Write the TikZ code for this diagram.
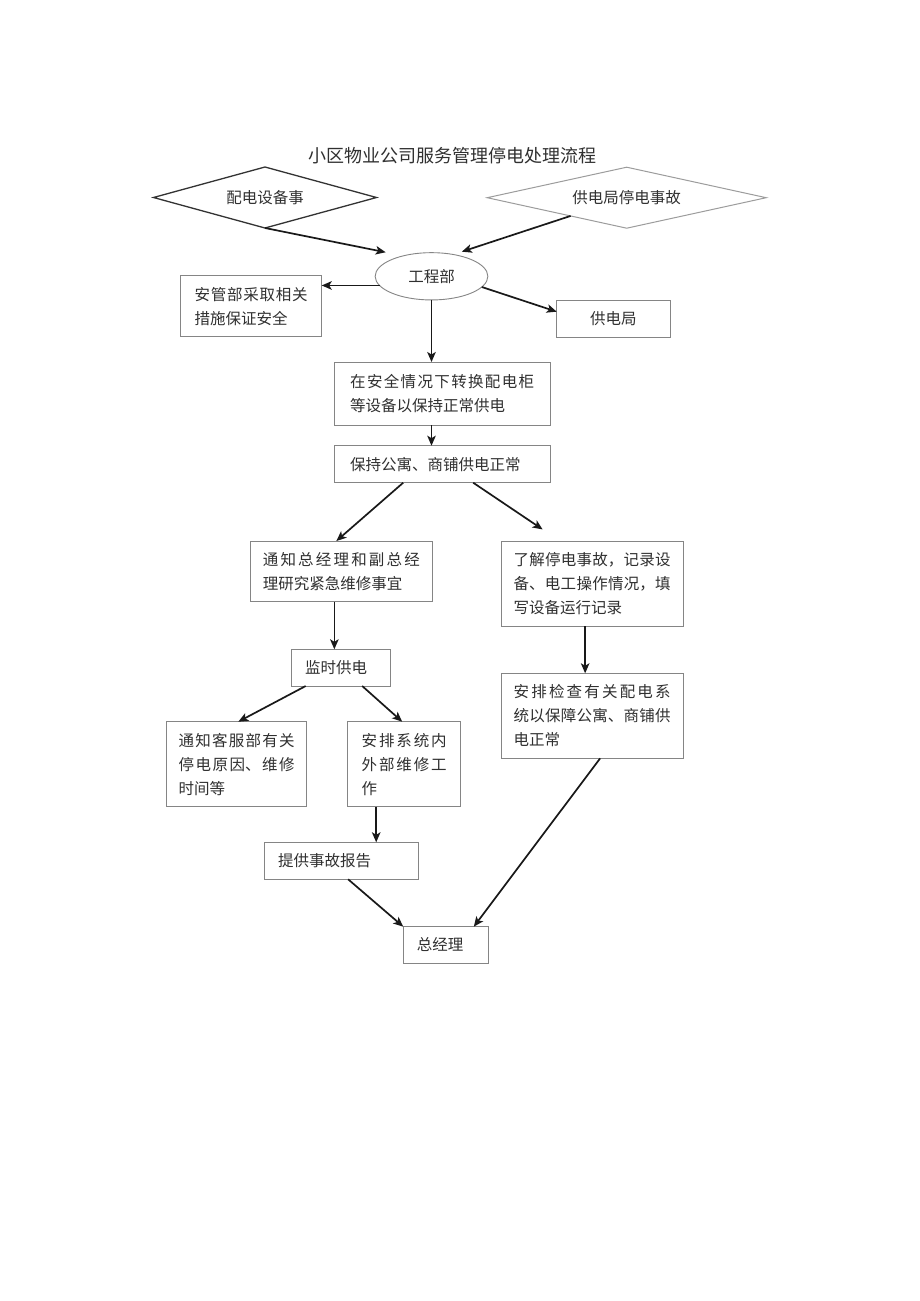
\documentclass[tikz,border=0pt]{standalone}
\usepackage{fontspec}
\setmainfont{Noto Sans CJK SC}
\usetikzlibrary{arrows.meta,shapes.geometric,calc}
\XeTeXlinebreaklocale "zh"
\XeTeXlinebreakskip=0pt plus 4pt
\definecolor{boxgray}{HTML}{858585}
\definecolor{txt}{HTML}{303030}
\definecolor{dline}{HTML}{333333}
\definecolor{lline}{HTML}{9C9C9C}
\newcommand\bodyfont{\fontsize{15.5}{24}\selectfont}
\newcommand\titlefont{\fontsize{18}{22}\selectfont}
\tikzset{
  box/.style={draw=boxgray, line width=0.9pt, rectangle, inner sep=0pt, outer sep=0pt,
    align=justify, font=\bodyfont, text=txt},
  cbox/.style={draw=boxgray, line width=0.9pt, rectangle, inner sep=0pt, outer sep=0pt,
    align=center, font=\bodyfont, text=txt},
  arr/.style={-{Stealth[length=10pt,width=8.5pt,inset=2.5pt]}, line width=1.7pt, draw=black!90},
}
\begin{document}
\begin{tikzpicture}[x=1pt,y=-1pt]
\fill[white] (0,0) rectangle (920,1301);
\useasboundingbox (0,0) rectangle (920,1301);

\node[font=\titlefont, text=txt] (title) at (452,156) {小区物业公司服务管理停电处理流程};

\node[diamond, draw=dline, line width=1.3pt, minimum width=223pt, minimum height=61pt,
      inner sep=0pt, outer sep=0pt, aspect=3.6, font=\bodyfont, text=txt] (ld) at (265,197.5) {\raisebox{-2pt}{配电设备事}};
\node[diamond, draw=lline, line width=1pt, minimum width=279pt, minimum height=61pt,
      inner sep=0pt, outer sep=0pt, aspect=4.5, font=\bodyfont, text=txt] (rd) at (626.7,197.7) {\raisebox{-2pt}{供电局停电事故}};

\node[ellipse, draw=boxgray, line width=0.9pt, minimum width=112.7pt, minimum height=47.3pt,
      inner sep=0pt, outer sep=0pt, font=\bodyfont, text=txt] (eng) at (431.5,276.3) {工程部};

\node[box, minimum width=141pt, minimum height=61pt, text width=113pt] (lb) at (251.2,306.2)
  {安管部采取相关\linebreak 措施保证安全};
\node[cbox, minimum width=113.3pt, minimum height=37.3pt] (gd) at (613.35,318.65) {供电局};

\node[box, minimum width=215.7pt, minimum height=63pt, text width=184pt] (b2) at (442.2,393.5)
  {在安全情况下转换配电柜\linebreak 等设备以保持正常供电};
\node[box, minimum width=215.7pt, minimum height=37pt, text width=184pt] (b3) at (442.2,464.2)
  {保持公寓、商铺供电正常};

\node[box, minimum width=182.7pt, minimum height=60.7pt, text width=157pt] (b4) at (341.35,571.35)
  {通知总经理和副总经\linebreak 理研究紧急维修事宜};
\node[box, minimum width=182.3pt, minimum height=85pt, text width=157pt] (b5) at (592.15,583.5)
  {了解停电事故，记录设\linebreak 备、电工操作情况，填\linebreak 写设备运行记录};

\node[box, minimum width=99pt, minimum height=36.7pt, text width=72pt] (b6) at (341.2,667.65)
  {监时供电};
\node[box, minimum width=182.3pt, minimum height=85pt, text width=157pt] (b7) at (592.15,715.8)
  {安排检查有关配电系\linebreak 统以保障公寓、商铺供\linebreak 电正常};

\node[box, minimum width=140pt, minimum height=85pt, text width=116pt] (b8) at (236.7,764.2)
  {通知客服部有关\linebreak 停电原因、维修\linebreak 时间等};
\node[box, minimum width=113pt, minimum height=85pt, text width=85pt] (b9) at (404.2,764.2)
  {安排系统内\linebreak 外部维修工\linebreak 作};

\node[box, minimum width=154.3pt, minimum height=37pt, text width=126pt] (b10) at (341.15,860.8)
  {提供事故报告};
\node[box, minimum width=85pt, minimum height=36.6pt, text width=58pt] (b11) at (445.8,945)
  {总经理};

% connectors
\draw[arr, shorten >=18pt] (ld.south) -- (eng.144.5);
\draw[arr, shorten >=9pt] (rd.198) -- (eng.45);
\draw[arr] (eng.190) -- (eng.190 -| lb.east);
\draw[arr] (eng.-12) -- (gd.173);
\draw[arr] (eng.south) -- (eng.south |- b2.north);
\draw[arr] (eng.south |- b2.south) -- (eng.south |- b3.north);
\draw[arr] ([xshift=-39pt]b3.south) -- ([xshift=-5pt]b4.north);
\draw[arr, shorten >=20.7pt] ([xshift=31pt]b3.south) -- ([xshift=-32.35pt]b5.north);
\draw[arr] ([xshift=-7pt]b4.south) -- ([xshift=-7pt]b4.south |- b6.north);
\draw[arr] ([xshift=-7pt]b5.south) -- ([xshift=-7pt]b5.south |- b7.north);
\draw[arr] ([xshift=-35.5pt]b6.south) -- ([xshift=1.6pt]b8.north);
\draw[arr] ([xshift=21pt]b6.south) -- ([xshift=-2pt]b9.north);
\draw[arr] ([xshift=-28pt]b9.south) -- ([xshift=-28pt]b9.south |- b10.north);
\draw[arr] ([xshift=7pt]b10.south) -- (b11.north west);
\draw[arr] ([xshift=8pt]b7.south) -- ([xshift=28pt]b11.north);
\end{tikzpicture}
\end{document}
